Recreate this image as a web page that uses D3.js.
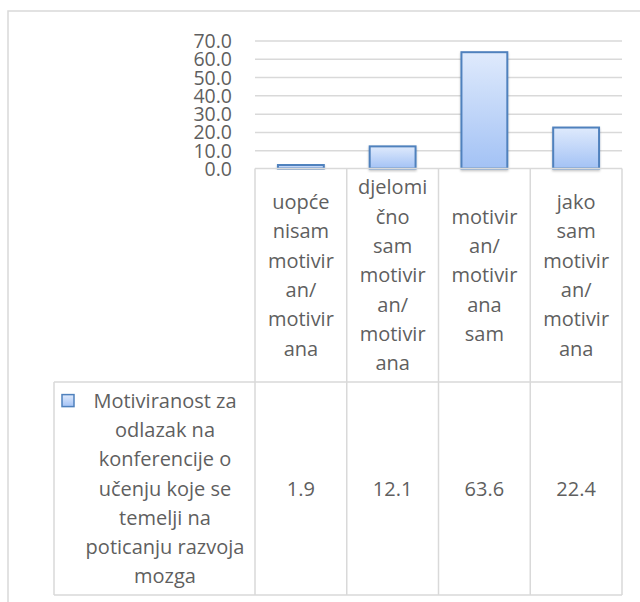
<!DOCTYPE html>
<html>
<head>
<meta charset="utf-8">
<script src="https://cdn.jsdelivr.net/npm/d3@7"></script>
<style>
  body { margin: 0; background: #fff; }
  #chart { width: 640px; height: 602px; }
  text { font-family: "Open Sans", Lato, sans-serif; fill: #5f5f5f; }
</style>
</head>
<body>
<div id="chart"></div>
<script>
// Datos del gráfico
let categories = ['uopće nisam motiviran/motivirana', 'djelomično sam motiviran/motivirana', 'motiviran/motivirana sam', 'jako sam motiviran/motivirana'];
let categoryLines = [
    ['uopće', 'nisam', 'motivir', 'an/', 'motivir', 'ana'],
    ['djelomi', 'čno', 'sam', 'motivir', 'an/', 'motivir', 'ana'],
    ['motivir', 'an/', 'motivir', 'ana', 'sam'],
    ['jako', 'sam', 'motivir', 'an/', 'motivir', 'ana']
];
let values = [1.9, 12.1, 63.6, 22.4];
let seriesName = 'Motiviranost za odlazak na konferencije o učenju koje se temelji na poticanju razvoja mozga';
let seriesLines = ['Motiviranost za', 'odlazak na', 'konferencije o', 'učenju koje se', 'temelji na', 'poticanju razvoja', 'mozga'];
let yTicks = [0, 10, 20, 30, 40, 50, 60, 70];

let width = 640, height = 602;
let plotLeft = 255, plotRight = 622, plotTop = 40.5, zero = 168.5;
let headerBottom = 382, tableBottom = 595, legendLeft = 54;
let lineH = 29.3, fontSize = 20, axisFont = 19.5;
let gridColor = '#d9d9d9', barStroke = '#4f81bd';

let svg = d3.select('#chart').append('svg')
    .attr('width', width)
    .attr('height', height);

// Degradado de las barras
let defs = svg.append('defs');
let grad = defs.append('linearGradient')
    .attr('id', 'barGrad')
    .attr('x1', 0).attr('y1', 0).attr('x2', 0).attr('y2', 1);
grad.append('stop').attr('offset', '0%').attr('stop-color', '#dfeafc');
grad.append('stop').attr('offset', '100%').attr('stop-color', '#a3c2f5');

let shadow = defs.append('filter').attr('id', 'shadow')
    .attr('x', '-20%').attr('y', '-20%').attr('width', '140%').attr('height', '140%');
shadow.append('feDropShadow')
    .attr('dx', 0).attr('dy', 1.5).attr('stdDeviation', 1.2)
    .attr('flood-color', '#000').attr('flood-opacity', 0.25);

// Marco exterior
svg.append('path')
    .attr('d', 'M8,' + height + 'V11H' + width)
    .attr('fill', 'none')
    .attr('stroke', gridColor)
    .attr('stroke-width', 1.5);

let x = d3.scaleBand()
    .domain(categories)
    .range([plotLeft, plotRight])
    .padding(0);

let y = d3.scaleLinear()
    .domain([0, 70])
    .range([zero, plotTop]);

// Líneas de cuadrícula
svg.append('g')
    .attr('class', 'grid')
    .attr('transform', 'translate(' + plotLeft + ',0)')
    .call(d3.axisLeft(y).tickValues(yTicks.slice(1)).tickSize(-(plotRight - plotLeft)).tickFormat(''))
    .call(g => g.select('.domain').remove())
    .call(g => g.selectAll('line').attr('stroke', gridColor).attr('stroke-width', 1.5));

// Eje Y
svg.append('g')
    .attr('transform', 'translate(' + plotLeft + ',0)')
    .call(d3.axisLeft(y).tickValues(yTicks).tickSize(0).tickPadding(23).tickFormat(d3.format('.1f')))
    .call(g => g.select('.domain').remove())
    .call(g => g.selectAll('text')
        .attr('font-size', axisFont)
        .attr('dy', '0.36em')
        .style('font-family', '"Open Sans", sans-serif')
        .attr('fill', '#5f5f5f'));

// Barras
svg.selectAll('.bar')
    .data(values)
    .enter()
    .append('rect')
    .attr('class', 'bar')
    .attr('x', (d, i) => x(categories[i]) + x.bandwidth() * 0.25)
    .attr('width', x.bandwidth() * 0.5)
    .attr('y', d => y(d))
    .attr('height', d => zero - y(d))
    .attr('fill', 'url(#barGrad)')
    .attr('stroke', barStroke)
    .attr('stroke-width', 2)
    .attr('filter', 'url(#shadow)');

// Tabla de datos
let table = svg.append('g')
    .attr('fill', 'none')
    .attr('stroke', gridColor)
    .attr('stroke-width', 1.5);

table.append('line')
    .attr('x1', plotLeft).attr('x2', plotRight)
    .attr('y1', zero).attr('y2', zero);
table.append('line')
    .attr('x1', legendLeft).attr('x2', plotRight)
    .attr('y1', headerBottom).attr('y2', headerBottom);
table.append('line')
    .attr('x1', legendLeft).attr('x2', plotRight)
    .attr('y1', tableBottom).attr('y2', tableBottom);
table.append('line')
    .attr('x1', legendLeft).attr('x2', legendLeft)
    .attr('y1', headerBottom).attr('y2', tableBottom);

let edges = categories.map(c => x(c)).concat([plotRight]);
table.selectAll('.sep')
    .data(edges)
    .enter()
    .append('line')
    .attr('x1', d => d).attr('x2', d => d)
    .attr('y1', zero).attr('y2', tableBottom);

// Etiquetas de categorías
let headerMid = (zero + headerBottom) / 2;
categoryLines.forEach(function(lines, i) {
    let cx = x(categories[i]) + x.bandwidth() / 2;
    let t = svg.append('text')
        .attr('text-anchor', 'middle')
        .attr('font-size', fontSize);
    lines.forEach(function(l, j) {
        t.append('tspan')
            .attr('x', cx)
            .attr('y', headerMid + (j - (lines.length - 1) / 2) * lineH)
            .attr('dy', '0.35em')
            .text(l);
    });
});

// Valores
let rowMid = (headerBottom + tableBottom) / 2;
svg.selectAll('.val')
    .data(values)
    .enter()
    .append('text')
    .attr('class', 'val')
    .attr('x', (d, i) => x(categories[i]) + x.bandwidth() / 2)
    .attr('y', rowMid)
    .attr('dy', '0.35em')
    .attr('text-anchor', 'middle')
    .attr('font-size', fontSize)
    .text(d => d3.format('.1f')(d));

// Leyenda
let legendTextMid = 165;
let lt = svg.append('text')
    .attr('text-anchor', 'middle')
    .attr('font-size', fontSize);
lt.append('title').text(seriesName);
seriesLines.forEach(function(l, j) {
    lt.append('tspan')
        .attr('x', legendTextMid)
        .attr('y', rowMid + (j - (seriesLines.length - 1) / 2) * lineH)
        .attr('dy', '0.35em')
        .text(l);
});

let firstY = rowMid - (seriesLines.length - 1) / 2 * lineH;
svg.append('rect')
    .attr('x', 62)
    .attr('y', firstY - 6)
    .attr('width', 12)
    .attr('height', 12)
    .attr('fill', 'url(#barGrad)')
    .attr('stroke', barStroke)
    .attr('stroke-width', 1.5);
</script>
</body>
</html>
